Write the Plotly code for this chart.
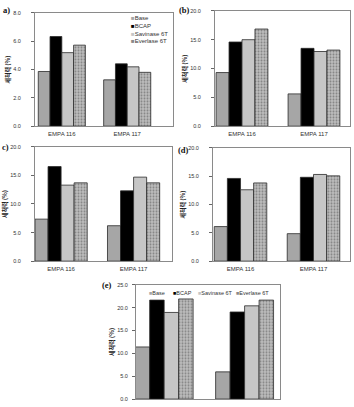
import plotly.graph_objects as go

# ---------------- data ----------------
categories = ["EMPA 116", "EMPA 117"]
series_names = ["Base", "BCAP", "Savinase 6T", "Everlase 6T"]

# values per series: [EMPA 116, EMPA 117]
a_base = [3.86, 3.27]
a_bcap = [6.33, 4.40]
a_sav = [5.19, 4.19]
a_ever = [5.72, 3.80]

b_base = [9.3, 5.6]
b_bcap = [14.6, 13.5]
b_sav = [15.0, 12.95]
b_ever = [16.85, 13.2]

c_base = [7.35, 6.2]
c_bcap = [16.55, 12.3]
c_sav = [13.3, 14.7]
c_ever = [13.7, 13.7]

d_base = [6.1, 4.85]
d_bcap = [14.6, 14.8]
d_sav = [12.6, 15.3]
d_ever = [13.8, 15.05]

e_base = [11.4, 5.95]
e_bcap = [21.65, 19.05]
e_sav = [18.95, 20.4]
e_ever = [21.9, 21.65]

panel_labels = ["a)", "(b)", "c)", "(d)", "(e)"]
y_max = [8, 20, 20, 20, 25]
y_dtick = [2, 5, 5, 5, 5]
y_title = "세척력 (%)"

# ---------------- styling ----------------
W, H = 354, 407
colors = ["#a6a6a6", "#000000", "#c6c6c6", "#b4b4b4"]
swatch_colors = ["#a6a6a6", "#000000", "#c6c6c6", "#8a8a8a"]

# panel boxes in pixels: (left, right, top, bottom)
boxes = [
    (35, 173, 10, 125),
    (215, 350, 8, 125),
    (35, 172, 146, 262),
    (213, 350, 147, 262),
    (136, 280, 286, 402),
]
x_ranges = [
    [-0.41, 1.70],
    [-0.375, 1.50],
    [-0.36, 1.53],
    [-0.377, 1.50],
    [-0.35, 1.44],
]
label_pos = [(1, 7), (177, 7), (0, 146), (176, 149), (100, 286)]
tick_standoff = [9, 9, 9, 9, 3]
show_x_labels = [True, True, True, True, False]

panels = [
    [a_base, a_bcap, a_sav, a_ever],
    [b_base, b_bcap, b_sav, b_ever],
    [c_base, c_bcap, c_sav, c_ever],
    [d_base, d_bcap, d_sav, d_ever],
    [e_base, e_bcap, e_sav, e_ever],
]

fig = go.Figure()
annotations = []

for p, series in enumerate(panels):
    ax = "" if p == 0 else str(p + 1)
    for s, vals in enumerate(series):
        marker = dict(color=colors[s], line=dict(color="#2a2a2a", width=0.8))
        if s == 3:
            marker["pattern"] = dict(shape=".", fgcolor="#4a4a4a", bgcolor="#bdbdbd",
                                     size=3, solidity=0.35, fillmode="overlay")
        fig.add_trace(go.Bar(
            x=categories, y=vals, name=series_names[s], marker=marker,
            xaxis="x" + ax, yaxis="y" + ax, showlegend=False,
        ))

    l, r, t, b = boxes[p]
    fig.layout["xaxis" + ax] = dict(
        domain=[l / W, r / W], anchor="y" + ax, type="category",
        range=x_ranges[p], showline=True, linecolor="#8a8a8a", linewidth=1,
        mirror=True, ticks="", showgrid=False, zeroline=False,
        showticklabels=show_x_labels[p],
        tickfont=dict(family="Liberation Sans", size=6, color="#333"),
        ticklabelstandoff=2,
    )
    fig.layout["yaxis" + ax] = dict(
        domain=[1 - b / H, 1 - t / H], anchor="x" + ax,
        range=[0, y_max[p]], dtick=y_dtick[p], tick0=0, tickformat=".1f",
        showline=True, linecolor="#8a8a8a", linewidth=1, mirror=True,
        ticks="outside", ticklen=3, tickcolor="#666", tickwidth=1,
        showgrid=False, zeroline=False,
        tickfont=dict(family="Liberation Sans", size=5.5, color="#333"),
        ticklabelstandoff=tick_standoff[p],
        title=dict(text="<b>" + y_title + "</b>", standoff=2,
                   font=dict(family="Noto Sans CJK KR", size=6, color="#222")),
    )
    lx, ly = label_pos[p]
    annotations.append(dict(
        text="<b>" + panel_labels[p] + "</b>", xref="paper", yref="paper",
        x=lx / W, y=1 - ly / H, xanchor="left", yanchor="middle",
        showarrow=False, font=dict(family="Liberation Serif", size=8.5, color="#111"),
    ))

# legend for panel a (vertical, top right inside plot)
legend_a_y = [15, 23, 31, 39]
for s, name in enumerate(series_names):
    annotations.append(dict(
        text="<span style='color:%s'>■</span>%s" % (swatch_colors[s], name),
        xref="paper", yref="paper", x=129 / W, y=1 - legend_a_y[s] / H,
        xanchor="left", yanchor="middle", showarrow=False,
        font=dict(family="Liberation Sans", size=6, color="#333"),
    ))

# legend for panel e (horizontal, top inside plot)
legend_e_x = [147, 171, 196, 234]
for s, name in enumerate(series_names):
    annotations.append(dict(
        text="<span style='color:%s'>■</span>%s" % (swatch_colors[s], name),
        xref="paper", yref="paper", x=legend_e_x[s] / W, y=1 - 294 / H,
        xanchor="left", yanchor="middle", showarrow=False,
        font=dict(family="Liberation Sans", size=5.5, color="#333"),
    ))

fig.update_layout(
    width=W, height=H, margin=dict(l=0, r=0, t=0, b=0),
    paper_bgcolor="white", plot_bgcolor="white",
    barmode="group", bargap=0.28, bargroupgap=0,
    annotations=annotations, showlegend=False,
)

fig.write_html("out.html")
